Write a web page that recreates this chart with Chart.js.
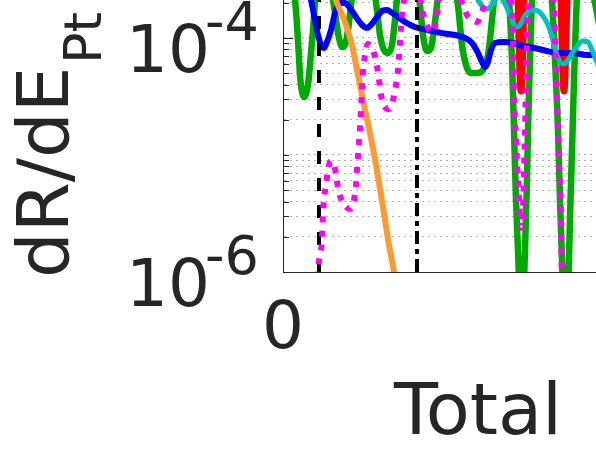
<!DOCTYPE html>
<html lang="en">
<head>
  <meta charset="UTF-8">
  <title>dR/dE Pt - Total</title>
  <style>
    html, body {
      margin: 0;
      padding: 0;
      background: #fff;
      overflow: hidden;
    }
    #recorte {
      width: 596px;
      height: 458px;
      overflow: hidden;
    }
  </style>
  <script src="https://cdn.jsdelivr.net/npm/chart.js"></script>
</head>
<body>
<div id="recorte">
  <canvas id="grafico" width="673" height="458"></canvas>
</div>
<script>
  // Ejes y etiquetas
  const xTitle = 'Total';
  const yTitle = 'dR/dE';
  const yTitleSub = 'Pt';
  const xTicks = [0];
  const yTickVals = [1e-6, 2e-6, 3e-6, 4e-6, 5e-6, 6e-6, 7e-6, 8e-6, 9e-6,
                     1e-5, 2e-5, 3e-5, 4e-5, 5e-5, 6e-5, 7e-5, 8e-5, 9e-5,
                     1e-4, 2e-4];
  const yLabelVals = [1e-6, 1e-4];
  const yLabelExps = ['-6', '-4'];

  // Curvas [x, dR/dE]
  const verde = [
    [0, 4.64e-4], [0.7, 3.13e-4], [1.2, 2.11e-4], [1.5, 9.61e-5], [1.7, 4.83e-5], [1.9, 3.46e-5],
    [2.1, 3.13e-5], [2.3, 3.32e-5], [2.5, 3.97e-5], [2.7, 5.88e-5], [3.0, 1.17e-4], [3.3, 2.57e-4],
    [3.9, 4.64e-4], [4.7, 2.84e-4], [5.0, 2.11e-4], [5.3, 1.43e-4], [5.6, 1.00e-4], [5.9, 8.38e-5],
    [6.2, 8.71e-5], [6.5, 1.17e-4], [6.8, 1.91e-4], [7.1, 3.13e-4], [8.2, 4.64e-4], [9.1, 2.57e-4],
    [9.4, 1.73e-4], [9.7, 1.06e-4], [10.1, 7.89e-5], [10.5, 7.44e-5], [10.9, 8.71e-5], [11.2, 1.43e-4],
    [11.5, 2.57e-4], [12.5, 4.64e-4], [13.5, 2.57e-4], [13.7, 1.91e-4], [14.0, 1.06e-4], [14.4, 7.74e-5],
    [14.8, 8.22e-5], [15.1, 1.17e-4], [15.4, 1.91e-4], [15.7, 3.13e-4], [16.7, 4.64e-4], [17.3, 2.57e-4],
    [17.6, 1.57e-4], [17.9, 8.71e-5], [18.3, 5.88e-5], [18.8, 5.02e-5], [19.4, 5.02e-5], [20.0, 5.33e-5],
    [20.5, 7.16e-5], [20.8, 1.17e-4], [21.1, 2.11e-4], [21.4, 3.81e-4], [22.2, 3.81e-4], [22.6, 2.11e-4],
    [22.9, 6.49e-5], [23.1, 1.64e-5], [23.3, 4.12e-6], [23.5, 1.54e-6], [23.7, 5.77e-7], [24.0, 5.77e-7],
    [24.2, 1.54e-6], [24.4, 6.11e-6], [24.5, 1.64e-5], [24.7, 6.49e-5], [24.9, 2.11e-4], [25.2, 3.81e-4],
    [26.5, 3.81e-4], [26.9, 2.11e-4], [27.2, 6.49e-5], [27.5, 1.64e-5], [27.7, 4.12e-6], [27.9, 1.27e-6],
    [28.1, 4.74e-7], [28.4, 4.74e-7], [28.6, 1.27e-6], [28.7, 2.90e-6], [28.9, 1.10e-5], [29.1, 4.38e-5],
    [29.3, 1.43e-4], [29.5, 3.13e-4], [30.0, 3.81e-4], [30.7, 3.13e-4], [31.2, 1.99e-4], [31.9, 9.61e-5],
    [32.5, 5.33e-5]
  ];
  const azul = [
    [1.7, 4.64e-4], [2.7, 2.33e-4], [3.1, 1.57e-4], [3.5, 1.06e-4], [3.8, 8.71e-5], [4.1, 8.22e-5],
    [4.4, 9.24e-5], [4.8, 1.17e-4], [5.2, 1.64e-4], [5.7, 1.99e-4], [6.2, 1.99e-4], [6.7, 1.80e-4],
    [7.3, 1.51e-4], [7.9, 1.29e-4], [8.4, 1.22e-4], [8.9, 1.32e-4], [9.4, 1.51e-4], [9.9, 1.70e-4],
    [10.4, 1.73e-4], [10.9, 1.64e-4], [11.5, 1.51e-4], [12.2, 1.37e-4], [13.2, 1.24e-4], [14.5, 1.17e-4],
    [15.9, 1.10e-4], [17.2, 1.06e-4], [18.2, 1.00e-4], [18.9, 9.06e-5], [19.5, 7.44e-5], [19.9, 6.24e-5],
    [20.2, 5.65e-5], [20.5, 6.24e-5], [20.8, 7.89e-5], [21.2, 9.06e-5], [22.0, 9.24e-5], [23.0, 9.06e-5],
    [24.0, 8.54e-5], [24.7, 8.38e-5], [26.0, 7.89e-5], [27.4, 7.44e-5], [29.0, 7.44e-5], [30.4, 7.16e-5],
    [31.7, 7.16e-5]
  ];
  const naranja = [
    [4.7, 3.81e-4], [5.3, 2.11e-4], [5.7, 1.73e-4], [6.2, 1.37e-4], [6.9, 8.71e-5], [7.4, 5.33e-5],
    [7.8, 3.59e-5], [8.1, 2.67e-5], [8.7, 1.54e-5], [9.3, 8.22e-6], [9.8, 4.55e-6], [10.2, 2.78e-6],
    [10.6, 1.70e-6], [11.1, 1.00e-6], [11.5, 5.77e-7]
  ];
  const rojo = [
    [23.0, 3.81e-4], [23.5, 2.11e-4], [23.6, 9.61e-5], [23.7, 4.83e-5], [23.8, 3.52e-5], [23.9, 4.83e-5],
    [24.0, 9.61e-5], [24.1, 2.11e-4], [24.5, 3.81e-4], [27.3, 3.81e-4], [27.8, 2.11e-4], [27.9, 9.61e-5],
    [28.0, 4.83e-5], [28.1, 3.52e-5], [28.2, 4.83e-5], [28.3, 9.61e-5], [28.4, 2.11e-4], [28.8, 3.81e-4]
  ];
  const cian = [
    [18.7, 3.13e-4], [19.5, 2.11e-4], [20.0, 1.84e-4], [20.4, 1.77e-4], [20.8, 1.88e-4], [21.2, 2.11e-4],
    [21.6, 2.24e-4], [22.0, 2.11e-4], [22.4, 1.80e-4], [22.8, 1.51e-4], [23.3, 1.24e-4], [23.7, 1.29e-4],
    [24.1, 1.51e-4], [24.5, 1.67e-4], [25.0, 1.73e-4], [25.5, 1.70e-4], [26.0, 1.54e-4], [26.5, 1.29e-4],
    [26.9, 1.02e-4], [27.3, 7.59e-5], [27.7, 6.24e-5], [28.1, 6.00e-5], [28.5, 6.49e-5], [29.0, 7.59e-5],
    [29.5, 8.71e-5], [30.0, 9.43e-5], [30.5, 9.24e-5], [30.9, 7.89e-5], [31.3, 6.49e-5], [31.7, 5.33e-5]
  ];
  const magenta = [
    [3.1, 3.89e-7], [3.5, 1.08e-6], [3.7, 1.40e-6], [3.9, 1.88e-6], [4.0, 3.07e-6], [4.1, 4.21e-6],
    [4.3, 5.54e-6], [4.5, 7.44e-6], [4.8, 8.89e-6], [5.1, 8.22e-6], [5.3, 6.88e-6], [5.5, 5.22e-6],
    [5.9, 4.04e-6], [6.3, 3.60e-6], [6.7, 3.45e-6], [7.1, 4.12e-6], [7.3, 5.54e-6], [7.4, 7.44e-6],
    [7.5, 9.80e-6], [7.6, 1.29e-5], [7.7, 1.70e-5], [7.8, 2.42e-5], [7.9, 3.59e-5], [8.0, 5.12e-5],
    [8.2, 7.16e-5], [8.5, 8.89e-5], [8.9, 8.22e-5], [9.2, 6.88e-5], [9.5, 5.12e-5], [9.8, 3.26e-5],
    [10.2, 2.57e-5], [10.6, 2.47e-5], [11.0, 2.95e-5], [11.3, 3.97e-5], [11.5, 5.33e-5], [11.6, 6.88e-5],
    [11.7, 9.24e-5], [11.8, 1.22e-4], [11.9, 1.57e-4], [12.1, 2.11e-4], [12.7, 3.46e-4], [13.4, 2.84e-4],
    [13.8, 1.99e-4], [14.1, 1.51e-4], [14.5, 1.22e-4], [15.0, 1.12e-4], [15.3, 1.37e-4], [15.5, 1.80e-4],
    [15.7, 2.33e-4], [16.7, 3.46e-4], [17.6, 2.33e-4], [18.0, 1.91e-4], [18.4, 1.57e-4], [18.9, 1.43e-4],
    [19.4, 1.37e-4], [19.9, 1.67e-4], [20.2, 1.99e-4], [20.6, 2.57e-4], [21.7, 3.46e-4], [22.7, 2.33e-4],
    [23.0, 9.61e-5], [23.1, 3.59e-5], [23.3, 1.34e-5], [23.5, 6.11e-6], [23.7, 3.07e-6], [23.9, 2.38e-6],
    [24.0, 3.39e-6], [24.1, 7.44e-6], [24.2, 1.64e-5], [24.3, 4.38e-5], [24.4, 9.61e-5], [24.5, 1.91e-4],
    [24.8, 3.13e-4], [26.2, 3.46e-4], [27.0, 2.33e-4], [27.2, 9.61e-5], [27.4, 2.95e-5], [27.6, 9.06e-6],
    [27.8, 2.78e-6], [27.9, 5.77e-7], [28.0, null], [29.2, 3.81e-4], [31.7, 3.81e-4]
  ];
  const lineaA = [[3.6, 1e-6], [3.6, 1e-3]];
  const lineaB = [[13.4, 1e-6], [13.4, 1e-3]];

  const pts = arr => arr.map(p => ({ x: p[0], y: p[1] }));
  const fuente = '"DejaVu Sans"';
  const oscuro = '#262626';

  // etiquetas del eje y con exponente, rótulo y ticks hacia dentro
  const extras = {
    id: 'extras',
    afterDraw(chart) {
      const { ctx, chartArea } = chart;
      const y = chart.scales.y;
      ctx.save();
      ctx.strokeStyle = oscuro;
      ctx.lineWidth = 1;
      y.ticks.forEach(t => {
        const py = Math.round(y.getPixelForValue(t.value)) + 0.5;
        const len = yLabelVals.includes(t.value) ? 10 : 6;
        ctx.beginPath();
        ctx.moveTo(chartArea.left, py);
        ctx.lineTo(chartArea.left + len, py);
        ctx.stroke();
      });
      ctx.fillStyle = oscuro;
      ctx.textBaseline = 'alphabetic';
      yLabelVals.forEach((v, i) => {
        const py = y.getPixelForValue(v);
        ctx.font = '66px ' + fuente;
        ctx.textAlign = 'right';
        ctx.fillText('10', 210, py + 34);
        ctx.font = '54px ' + fuente;
        ctx.textAlign = 'left';
        ctx.fillText(yLabelExps[i], 205, py + 2);
      });
      ctx.translate(68, 278);
      ctx.rotate(-Math.PI / 2);
      ctx.font = '72px ' + fuente;
      ctx.textAlign = 'left';
      ctx.fillText(yTitle, 0, 0);
      const w = ctx.measureText(yTitle).width;
      ctx.font = '52px ' + fuente;
      ctx.fillText(yTitleSub, w + 3, 33);
      ctx.restore();
    }
  };

  const curva = (data, color, width) => ({
    data: pts(data),
    borderColor: color,
    borderWidth: width,
    cubicInterpolationMode: 'monotone',
    clip: 0
  });

  const ctx = document.getElementById('grafico').getContext('2d');
  const chart = new Chart(ctx, {
    type: 'line',
    data: {
      datasets: [
        Object.assign(curva(magenta, '#ff00ff', 6), { borderDash: [6, 8], borderCapStyle: 'butt', spanGaps: false }),
        Object.assign(curva(lineaA, '#000000', 4), { borderDash: [13, 14], tension: 0, cubicInterpolationMode: 'default' }),
        Object.assign(curva(lineaB, '#000000', 4), { borderDash: [13, 5, 5, 5], tension: 0, cubicInterpolationMode: 'default' }),
        curva(naranja, '#ff9933', 6),
        curva(cian, '#00bfbf', 5),
        curva(azul, '#0000ff', 6),
        curva(rojo, '#ff0000', 7),
        curva(verde, '#00aa00', 6.5)
      ]
    },
    options: {
      responsive: false,
      animation: false,
      layout: { padding: 0 },
      elements: {
        point: { radius: 0 },
        line: { capBezierPoints: false, borderJoinStyle: 'round' }
      },
      plugins: {
        legend: { display: false },
        tooltip: { enabled: false }
      },
      scales: {
        x: {
          type: 'linear',
          min: 0,
          max: 39,
          grid: { display: false, drawTicks: false },
          border: { display: true, color: oscuro, width: 1 },
          ticks: { font: { family: 'DejaVu Sans', size: 66 }, color: oscuro, padding: 19, maxRotation: 0 },
          afterBuildTicks: s => { s.ticks = xTicks.map(v => ({ value: v })); },
          title: {
            display: true,
            text: xTitle,
            color: oscuro,
            font: { family: 'DejaVu Sans', size: 72 },
            padding: { top: 0, bottom: 0 }
          },
          afterFit: s => { s.height = 186; }
        },
        y: {
          type: 'logarithmic',
          min: 1e-6,
          max: 2.11e-4,
          grid: { color: 'rgba(38,38,38,0.35)', lineWidth: 1, drawTicks: false },
          border: { display: true, color: oscuro, width: 1, dash: [2, 4] },
          ticks: { display: false },
          afterBuildTicks: s => { s.ticks = yTickVals.map(v => ({ value: v })); },
          afterFit: s => { s.width = 283; }
        }
      }
    },
    plugins: [extras]
  });
</script>
</body>
</html>
